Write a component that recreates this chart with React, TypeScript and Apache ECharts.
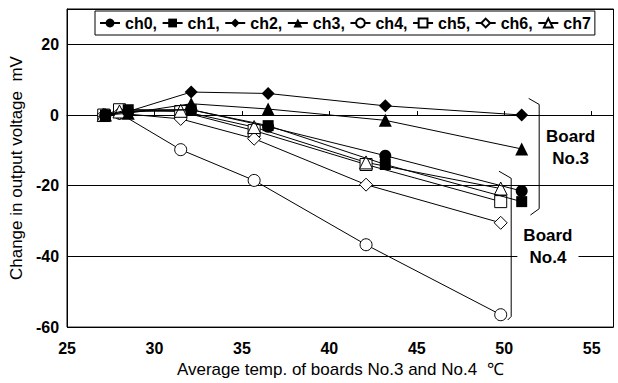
import React, { useEffect, useRef } from "react";
import * as echarts from "echarts";

// Temperatures (x) — board No.3 channels (filled markers) and board No.4 channels (open markers)
const tempFilled = [27.2, 28.5, 32.1, 36.5, 43.2, 51.0];
const tempOpen = [27.1, 28.0, 31.5, 35.7, 42.1, 49.8];

// Change in output voltage (mV)
const ch0 = [0, 1.0, 1.5, -3.3, -11.5, -21.5];
const ch1 = [0, 1.5, 1.5, -3.0, -14.0, -24.5];
const ch2 = [0, 1.0, 6.5, 6.1, 2.6, 0];
const ch3 = [0, 0.5, 3.2, 1.7, -1.5, -9.6];
const ch4 = [0, 0.5, -9.8, -18.5, -36.7, -56.5];
const ch5 = [0, 1.5, 1.0, -4.4, -14.0, -24.5];
const ch6 = [0, 0.5, -1.1, -6.7, -19.7, -30.5];
const ch7 = [0, 1.0, 1.2, -3.4, -13.4, -20.8];

const xTicks = [25, 30, 35, 40, 45, 50, 55];
const yTicks = [-60, -40, -20, 0, 20];

// Annotation brackets (data coordinates)
const board3Bracket = [[51.4, 4.7], [52.0, 3.0], [52.0, -26.5], [51.5, -28.3]];
const board4Bracket = [[49.7, -15.9], [50.4, -17.9], [50.4, -57.0], [50.2, -58.0]];
const board3Label = { text: "Board\nNo.3", x: 53.8, y: -9.3 };
const board4Label = { text: "Board\nNo.4", x: 52.5, y: -37.3 };

type Spec = { name: string; values: number[]; xs: number[]; symbol: string; size: number; filled: boolean };

const seriesSpecs: Spec[] = [
  { name: "ch0", values: ch0, xs: tempFilled, symbol: "circle", size: 12, filled: true },
  { name: "ch1", values: ch1, xs: tempFilled, symbol: "rect", size: 11, filled: true },
  { name: "ch2", values: ch2, xs: tempFilled, symbol: "diamond", size: 13, filled: true },
  { name: "ch3", values: ch3, xs: tempFilled, symbol: "triangle", size: 13, filled: true },
  { name: "ch4", values: ch4, xs: tempOpen, symbol: "circle", size: 12, filled: false },
  { name: "ch5", values: ch5, xs: tempOpen, symbol: "rect", size: 12, filled: false },
  { name: "ch6", values: ch6, xs: tempOpen, symbol: "diamond", size: 13, filled: false },
  { name: "ch7", values: ch7, xs: tempOpen, symbol: "triangle", size: 13, filled: false },
];

const FONT = "'Liberation Sans', Arial, sans-serif";

export default function App() {
  const ref = useRef<HTMLDivElement>(null);
  useEffect(() => {
    if (!ref.current) return;
    const chart = echarts.init(ref.current, undefined, { renderer: "svg" });
    const option: any = {
      animation: false,
      backgroundColor: "#fff",
      textStyle: { fontFamily: FONT },
      grid: { left: 63.5, right: 4.5, top: 9, bottom: 53, show: true, borderColor: "#000", borderWidth: 1, backgroundColor: "transparent" },
      legend: {
        left: 95,
        top: 11,
        padding: [4, 4],
        itemGap: 4.6,
        itemWidth: 20,
        itemHeight: 11,
        backgroundColor: "#fff",
        borderColor: "#000",
        borderWidth: 1,
        borderRadius: 0,
        formatter: (n: string) => (n === "ch7" ? n : n + ","),
        textStyle: { color: "#000", fontSize: 16, fontWeight: "bold", fontFamily: FONT },
        data: seriesSpecs.map((s) => s.name),
      },
      xAxis: {
        type: "value",
        min: 25,
        max: 56.25,
        interval: 5,
        name: "Average temp. of boards No.3 and No.4  ℃",
        nameLocation: "middle",
        nameGap: 33,
        nameTextStyle: { color: "#000", fontSize: 17, fontFamily: FONT },
        axisLine: { show: true, lineStyle: { color: "#000", width: 1 } },
        axisTick: { show: true, inside: true, length: 4, lineStyle: { color: "#000" } },
        axisLabel: {
          color: "#000",
          fontSize: 16,
          fontWeight: "bold",
          margin: 13,
          showMaxLabel: false,
          formatter: (v: number) => (xTicks.includes(v) ? String(v) : ""),
        },
        splitLine: { show: false },
      },
      yAxis: {
        type: "value",
        min: -60,
        max: 30,
        interval: 20,
        name: "Change in output voltage  mV",
        nameLocation: "middle",
        nameGap: 36,
        nameTextStyle: { color: "#000", fontSize: 17, fontFamily: FONT },
        axisLine: { show: true, lineStyle: { color: "#000", width: 1 } },
        axisTick: { show: false },
        axisLabel: {
          color: "#000",
          fontSize: 16,
          fontWeight: "bold",
          margin: 8,
          formatter: (v: number) => (yTicks.includes(v) ? String(v) : ""),
        },
        splitLine: { show: true, lineStyle: { color: "#000", width: 1 } },
      },
      series: seriesSpecs.map((s) => ({
        name: s.name,
        type: "line",
        data: s.xs.map((x, i) => [x, s.values[i]]),
        symbol: s.symbol,
        symbolSize: s.size,
        showSymbol: true,
        lineStyle: { color: "#000", width: 1 },
        itemStyle: { color: s.filled ? "#000" : "#fff", borderColor: "#000", borderWidth: s.filled ? 0 : 1 },
        emphasis: { disabled: true },
        z: s.filled ? 3 : 2,
      })),
    };
    chart.setOption(option);

    const px = (p: number[]) => chart.convertToPixel({ gridIndex: 0 }, p) as number[];
    const textEl = (l: { text: string; x: number; y: number }, bg: boolean) => {
      const c = px([l.x, l.y]);
      return {
        type: "text",
        x: c[0],
        y: c[1],
        z: 100,
        style: {
          text: l.text,
          fill: "#000",
          font: `bold 17px ${FONT}`,
          align: "center",
          verticalAlign: "middle",
          lineHeight: 22,
          backgroundColor: bg ? "#fff" : undefined,
          padding: bg ? [0, 6] : 0,
        },
      };
    };
    chart.setOption({
      graphic: [
        { type: "polyline", z: 90, shape: { points: board3Bracket.map(px) }, style: { stroke: "#000", lineWidth: 1, fill: "none" } },
        { type: "polyline", z: 90, shape: { points: board4Bracket.map(px) }, style: { stroke: "#000", lineWidth: 1, fill: "none" } },
        textEl(board3Label, false),
        textEl(board4Label, true),
      ],
    });
    return () => chart.dispose();
  }, []);
  return <div ref={ref} style={{ position: "fixed", left: 0, top: 0, width: 618, height: 383, background: "#fff" }} />;
}
